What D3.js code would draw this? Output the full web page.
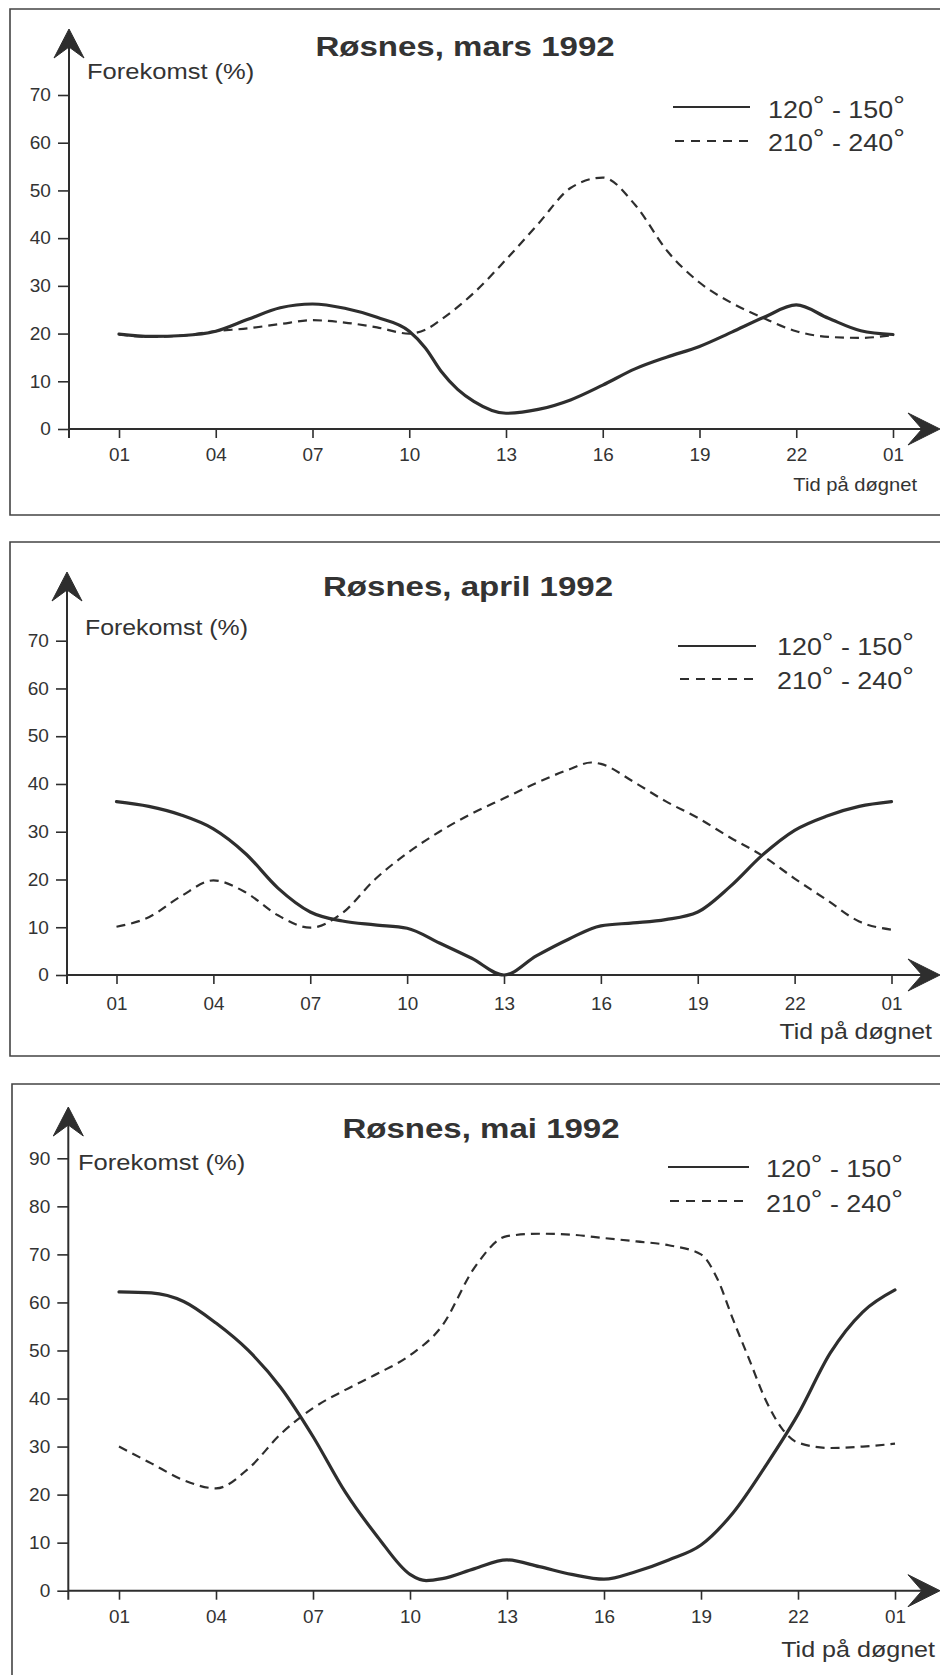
<!DOCTYPE html>
<html>
<head>
<meta charset="utf-8">
<script src="https://cdn.jsdelivr.net/npm/d3@7"></script>
<style>
  html, body { margin: 0; padding: 0; background: #fff; }
  svg { display: block; }
  text { font-family: "Liberation Sans", Arial, Helvetica, sans-serif; fill: #333; }
</style>
</head>
<body>
<script>
// ---------------- DATA ----------------
const titles = ["Røsnes, mars 1992", "Røsnes, april 1992", "Røsnes, mai 1992"];
const yAxisLabel = "Forekomst (%)";
const xAxisLabel = "Tid på døgnet";
const seriesNames = ["120° - 150°", "210° - 240°"];
const xTickHours = [1, 4, 7, 10, 13, 16, 19, 22, 25];
const xTickLabels = ["01", "04", "07", "10", "13", "16", "19", "22", "01"];
const yTicksMarsApril = [0, 10, 20, 30, 40, 50, 60, 70];
const yTicksMai = [0, 10, 20, 30, 40, 50, 60, 70, 80, 90];

// mars 1992
const marsSolidHours  = [1, 2, 3, 4, 5, 6, 7, 8, 9, 10, 10.5, 11, 11.5, 12, 13, 14, 15, 16, 17, 18, 19, 20, 21, 22, 23, 24, 25];
const marsSolidValues = [19.9, 19.4, 19.6, 20.5, 23, 25.4, 26.2, 25.3, 23.4, 20.5, 17, 12, 8.3, 5.8, 3.3, 4.1, 6.1, 9.2, 12.6, 15.1, 17.3, 20.3, 23.4, 26, 23.2, 20.6, 19.8];
const marsDashedHours  = [1, 2, 3, 4, 5, 6, 7, 8, 9, 10, 10.5, 11, 12, 13, 14, 15, 16, 17, 18, 19, 20, 21, 22, 23, 24, 25];
const marsDashedValues = [19.8, 19.3, 19.6, 20.5, 21.1, 22, 22.8, 22.3, 21.3, 20.0, 20.8, 23.0, 28.5, 35.5, 43, 50.5, 52.7, 47, 37.3, 30.7, 26.4, 23.2, 20.5, 19.3, 19.1, 19.7];

// april 1992
const aprilSolidHours  = [1, 2, 3, 4, 5, 6, 7, 8, 9, 10, 11, 12, 13, 14, 15, 16, 17, 18, 19, 20, 21, 22, 23, 24, 25];
const aprilSolidValues = [36.3, 35.3, 33.5, 30.6, 25.4, 18.2, 13.2, 11.3, 10.5, 9.8, 6.7, 3.5, 0, 4.0, 7.5, 10.3, 10.9, 11.6, 13.2, 18.5, 25.1, 30.3, 33.3, 35.3, 36.3];
const aprilDashedHours  = [1, 2, 3, 4, 5, 6, 7, 8, 9, 10, 11, 12, 13, 14, 15, 15.7, 16, 17, 18, 19, 20, 21, 22, 23, 24, 25];
const aprilDashedValues = [10.1, 12.1, 16.5, 19.8, 17.3, 12.5, 9.9, 13.0, 20.0, 25.5, 30.0, 33.8, 37, 40.2, 43, 44.5, 44.2, 40.5, 36.4, 32.9, 28.8, 25, 20.2, 15.7, 11.2, 9.5];

// mai 1992
const maiSolidHours  = [1, 2, 3, 4, 5, 6, 7, 8, 9, 10, 10.5, 11, 12, 13, 14, 15, 16, 17, 18, 19, 20, 21, 22, 23, 24, 25];
const maiSolidValues = [62.2, 62.0, 60.2, 55.7, 50.0, 42.3, 32.1, 20.5, 11.2, 3.4, 2.1, 2.5, 4.6, 6.4, 5.0, 3.4, 2.4, 4.0, 6.4, 9.5, 16.3, 26, 36.7, 49.5, 58.0, 62.6];
const maiDashedHours  = [1, 2, 3, 4, 5, 6, 7, 8, 9, 10, 11, 12, 13, 14, 15, 16, 17, 18, 19, 19.5, 20, 20.5, 21, 21.5, 22, 23, 24, 25];
const maiDashedValues = [30.0, 26.5, 23.0, 21.3, 25.4, 32.6, 38.0, 41.8, 45.2, 49.0, 55.2, 67.3, 73.8, 74.3, 74.1, 73.4, 72.7, 71.9, 70.0, 65.0, 56.3, 48.0, 39.7, 33.8, 30.8, 29.7, 30.0, 30.6];

// ---------------- LAYOUT ----------------
const W = 940, H = 1675;
const INK = "#2e2e2e";
const panels = [
  { title: titles[0], yTicks: yTicksMarsApril, yMax: 70,
    solid: d3.zip(marsSolidHours, marsSolidValues), dashed: d3.zip(marsDashedHours, marsDashedValues),
    frameX: 10, top: 9, bottom: 515,
    ax: 69, x1: 119, x25: 893, y0: 429, yTopPx: 95, tipY: 29,
    titleX: 465, titleY: 56,
    ylabX: 87, ylabY: 79, ylabSx: 1.16,
    legX1: 673, legX2: 750, legY1: 107, legY2: 141, legTextX: 768, legTextY1: 118, legTextY2: 151,
    xlabRight: 917, xlabY: 491, xlabSize: 18, xlabSx: 1.12, xTickPad: 10, hasBottom: true },
  { title: titles[1], yTicks: yTicksMarsApril, yMax: 70,
    solid: d3.zip(aprilSolidHours, aprilSolidValues), dashed: d3.zip(aprilDashedHours, aprilDashedValues),
    frameX: 10, top: 542, bottom: 1056,
    ax: 67, x1: 116.5, x25: 891.5, y0: 975, yTopPx: 640.7, tipY: 572,
    titleX: 468, titleY: 596,
    ylabX: 85, ylabY: 635, ylabSx: 1.13,
    legX1: 678, legX2: 756, legY1: 646, legY2: 679, legTextX: 777, legTextY1: 655, legTextY2: 689,
    xlabRight: 932, xlabY: 1039, xlabSize: 22, xlabSx: 1.13, xTickPad: 13, hasBottom: true },
  { title: titles[2], yTicks: yTicksMai, yMax: 90,
    solid: d3.zip(maiSolidHours, maiSolidValues), dashed: d3.zip(maiDashedHours, maiDashedValues),
    frameX: 12, top: 1084, bottom: 1700,
    ax: 68.3, x1: 119, x25: 895, y0: 1590.7, yTopPx: 1158.3, tipY: 1107,
    titleX: 481, titleY: 1138,
    ylabX: 78, ylabY: 1170, ylabSx: 1.16,
    legX1: 668, legX2: 749, legY1: 1167, legY2: 1201, legTextX: 766, legTextY1: 1177, legTextY2: 1212,
    xlabRight: 935, xlabY: 1657, xlabSize: 22, xlabSx: 1.14, xTickPad: 11, hasBottom: false }
];

const svg = d3.select("body").append("svg").attr("width", W).attr("height", H);

function addText(g, str, x, y, size, sx, anchor, weight) {
  return g.append("text")
    .attr("transform", `translate(${x},${y}) scale(${sx},1)`)
    .attr("text-anchor", anchor || "start")
    .attr("font-size", size)
    .attr("font-weight", weight || "normal")
    .text(str);
}

function addLegendText(g, str, x, y) {
  const t = g.append("text")
    .attr("transform", `translate(${x},${y}) scale(1.12,1)`)
    .attr("font-size", 24);
  const parts = str.split("°");
  parts.forEach((p, i) => {
    if (p.length) t.append("tspan").attr("dy", i > 0 ? 4 : 0).text(p);
    if (i < parts.length - 1) t.append("tspan").attr("font-size", 26).attr("dy", -4).text("°");
  });
}

panels.forEach(p => {
  const g = svg.append("g");
  const x = d3.scaleLinear().domain([1, 25]).range([p.x1, p.x25]);
  const y = d3.scaleLinear().domain([0, p.yMax]).range([p.y0, p.yTopPx]);

  // frame (open at the right edge)
  g.append("path")
    .attr("d", p.hasBottom
      ? `M${W + 5},${p.top} H${p.frameX} V${p.bottom} H${W + 5}`
      : `M${W + 5},${p.top} H${p.frameX} V${H + 5}`)
    .attr("fill", "none").attr("stroke", "#444").attr("stroke-width", 1.6);

  // y axis
  const yAxis = d3.axisLeft(y).tickValues(p.yTicks).tickSize(11).tickPadding(6).tickFormat(d3.format("d"));
  const gy = g.append("g").attr("transform", `translate(${p.ax},0)`).call(yAxis);
  gy.select(".domain").remove();
  gy.selectAll(".tick line").attr("stroke", INK).attr("stroke-width", 1.6);
  gy.selectAll(".tick text").attr("font-size", 18).attr("fill", "#333")
    .attr("font-family", "'Liberation Sans', Arial, sans-serif")
    .attr("transform", "scale(1.06,1)");

  // x axis
  const xAxis = d3.axisBottom(x).tickValues(xTickHours).tickSize(9).tickPadding(p.xTickPad)
    .tickFormat((d, i) => xTickLabels[i]);
  const gx = g.append("g").attr("transform", `translate(0,${p.y0})`).call(xAxis);
  gx.select(".domain").remove();
  gx.selectAll(".tick line").attr("stroke", INK).attr("stroke-width", 1.6);
  gx.selectAll(".tick text").attr("font-size", 18).attr("fill", "#333")
    .attr("font-family", "'Liberation Sans', Arial, sans-serif")
    .attr("transform", "scale(1.05,1)");

  // axis lines
  g.append("line").attr("x1", p.ax).attr("x2", p.ax).attr("y1", p.tipY + 10).attr("y2", p.y0 + 9)
    .attr("stroke", INK).attr("stroke-width", 2);
  g.append("line").attr("x1", p.ax).attr("x2", 925).attr("y1", p.y0).attr("y2", p.y0)
    .attr("stroke", INK).attr("stroke-width", 2);

  // arrowheads
  const ty = p.tipY;
  g.append("path")
    .attr("d", `M${p.ax},${ty} L${p.ax + 15},${ty + 29} L${p.ax},${ty + 18} L${p.ax - 15},${ty + 29} Z`)
    .attr("fill", INK).attr("stroke", INK).attr("stroke-width", 1).attr("stroke-linejoin", "miter");
  g.append("path")
    .attr("d", `M940,${p.y0} L908,${p.y0 - 16} L922,${p.y0} L908,${p.y0 + 16} Z`)
    .attr("fill", INK).attr("stroke", INK).attr("stroke-width", 1);

  // title
  addText(g, p.title, p.titleX, p.titleY, 28, 1.18, "middle", "bold");
  // axis labels
  addText(g, yAxisLabel, p.ylabX, p.ylabY, 22, p.ylabSx, "start");
  addText(g, xAxisLabel, p.xlabRight, p.xlabY, p.xlabSize, p.xlabSx, "end");

  // legend
  g.append("line").attr("x1", p.legX1).attr("x2", p.legX2).attr("y1", p.legY1).attr("y2", p.legY1)
    .attr("stroke", INK).attr("stroke-width", 2);
  g.append("line").attr("x1", p.legX1 + 2).attr("x2", p.legX2).attr("y1", p.legY2).attr("y2", p.legY2)
    .attr("stroke", INK).attr("stroke-width", 2).attr("stroke-dasharray", "9,7");
  addLegendText(g, seriesNames[0], p.legTextX, p.legTextY1);
  addLegendText(g, seriesNames[1], p.legTextX, p.legTextY2);

  // series
  const line = d3.line().x(d => x(d[0])).y(d => y(d[1])).curve(d3.curveMonotoneX);
  g.append("path").datum(p.dashed).attr("d", line)
    .attr("fill", "none").attr("stroke", INK).attr("stroke-width", 2.2)
    .attr("stroke-dasharray", "9,6");
  g.append("path").datum(p.solid).attr("d", line)
    .attr("fill", "none").attr("stroke", INK).attr("stroke-width", 3.2)
    .attr("stroke-linecap", "round").attr("stroke-linejoin", "round");
});
</script>
</body>
</html>
